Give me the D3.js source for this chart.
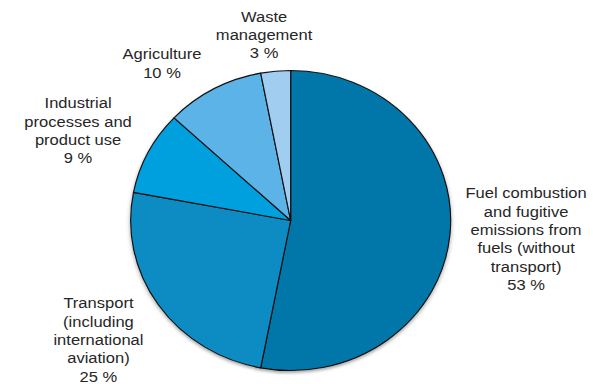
<!DOCTYPE html>
<html>
<head>
<meta charset="utf-8">
<script src="https://cdn.jsdelivr.net/npm/d3@7"></script>
<style>
  html, body { margin: 0; padding: 0; background: #fff; }
  svg { display: block; }
  text { font-family: "Liberation Sans", Arial, sans-serif; fill: #262626; }
</style>
</head>
<body>
<svg id="chart" width="593" height="384"></svg>
<script>
// Greenhouse gas emissions by sector (share of total, %)
const categories = [
  ["Fuel combustion", "and fugitive", "emissions from", "fuels (without", "transport)"],
  ["Transport", "(including", "international", "aviation)"],
  ["Industrial", "processes and", "product use"],
  ["Agriculture"],
  ["Waste", "management"]
];
const values = [53, 25, 9, 10, 3];
const colors = ["#0677a8", "#0a8cc4", "#009fdd", "#5bb3e8", "#a1cdf1"];

// Layout
const W = 593, H = 384;
const stretchX = 160 / 150;      // chart is drawn slightly widened horizontally
const cx = 272.5, cy = 220.5, R = 150;
const fontSize = 15.5, lineH = 18.4;

// Label block anchors: centre x and first baseline y (unstretched coordinates)
const labelAnchors = [
  { x: 493.2, y: 198.3 },
  { x: 92.3,  y: 308.3 },
  { x: 73.2,  y: 108.3 },
  { x: 151.9, y: 59.5 },
  { x: 247.6, y: 21.7 }
];

const svg = d3.select("#chart");

const defs = svg.append("defs");
const shadow = defs.append("filter").attr("id", "shadow")
  .attr("x", "-10%").attr("y", "-10%").attr("width", "120%").attr("height", "125%");
shadow.append("feDropShadow")
  .attr("dx", 0).attr("dy", 2).attr("stdDeviation", 1.8)
  .attr("flood-color", "#000").attr("flood-opacity", 0.35);

const root = svg.append("g").attr("transform", `scale(${stretchX},1)`);

const pie = d3.pie().sort(null).value(d => d)
  .startAngle(0).endAngle(2 * Math.PI);
const arc = d3.arc().innerRadius(0).outerRadius(R);

const arcs = pie(values);

const pieG = root.append("g")
  .attr("transform", `translate(${cx},${cy})`)
  .attr("filter", "url(#shadow)");

pieG.selectAll("path")
  .data(arcs)
  .join("path")
  .attr("d", arc)
  .attr("fill", (d, i) => colors[i])
  .attr("stroke", "#111")
  .attr("stroke-width", 1.1)
  .attr("stroke-linejoin", "round");

// Labels: category lines followed by the percentage
const labels = root.append("g").attr("font-size", fontSize);
categories.forEach((lines, i) => {
  const all = lines.concat([`${values[i]} %`]);
  const t = labels.append("text")
    .attr("text-anchor", "middle")
    .attr("x", labelAnchors[i].x)
    .attr("y", labelAnchors[i].y);
  all.forEach((s, j) => {
    t.append("tspan")
      .attr("x", labelAnchors[i].x)
      .attr("y", labelAnchors[i].y + j * lineH)
      .text(s);
  });
});
</script>
</body>
</html>
